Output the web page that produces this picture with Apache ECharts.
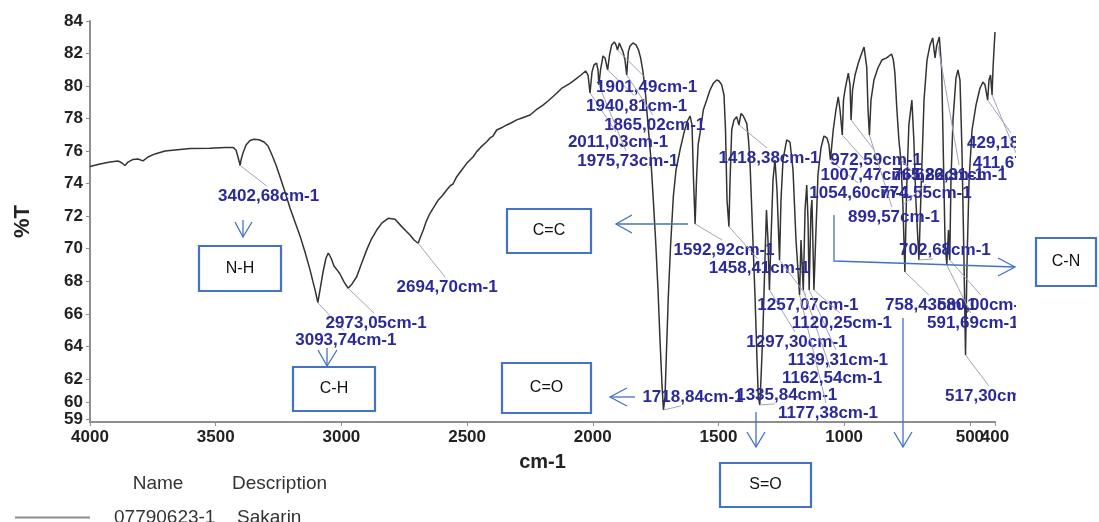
<!DOCTYPE html>
<html>
<head>
<meta charset="utf-8">
<script src="https://cdn.jsdelivr.net/npm/echarts@6/dist/echarts.min.js"></script>
<style>
html,body{margin:0;padding:0;background:#fff;}
#chart{width:1099px;height:522px;}
</style>
</head>
<body>
<div id="chart"></div>
<script>
// ---------- DATA ----------
const wavenumber = [4000,3960.2,3920.4,3888.6,3872.7,3860.8,3848.8,3828.9,3809.1,3789.2,3769.3,3741.4,3701.6,3661.9,3602.2,3522.6,3463,3431.1,3419.2,3411.3,3402.68,3399.3,3391.4,3379.4,3363.5,3347.6,3327.7,3307.8,3291.9,3276,3260.1,3244.2,3224.3,3204.4,3184.5,3164.6,3144.7,3124.8,3112.9,3102.9,3093.74,3085.1,3073.1,3061.2,3052,3041.3,3029.4,3017.4,3005.5,2989.6,2973.05,2957.8,2939.1,2922,2899.3,2882.2,2859.5,2838.4,2813.4,2786.7,2760,2743,2727,2711.1,2694.70,2687.3,2674.1,2663.4,2647.5,2631.6,2614.5,2599.7,2581.1,2567.9,2556,2541.3,2524.2,2501.5,2488.4,2476.4,2461.7,2444.6,2421.9,2408.8,2396.9,2382.2,2365.2,2342.4,2325.3,2302.6,2281.5,2249.7,2225.8,2196.8,2178.1,2143.5,2122.4,2090.6,2066.7,2046.8,2028.5,
2018.9,2011.03,2003,1995.1,1985.1,1979.1,1975.73,1969.1,1959.3,1951.3,1940.81,1933.4,1924.7,1914.3,1907.6,1901.49,1894.4,1887.7,1879.7,1871.8,1865.02,1858.7,1851.9,1840,1828.1,1818.1,1809.7,1800.2,1789.8,1780.3,1770,1760.4,1750.1,1740.5,1732.6,1724.6,1718.84,1712.6,1706.7,1699.5,1690.8,1679.6,1668.9,1653,1637.3,1625.1,1613.2,1605.2,1599.2,1592.92,1587.4,1581,1573.1,1560.3,1546.8,1533.6,1520.5,1507,1497.8,1487.1,1478,1472,1466,1458.41,1453.9,1447.3,1438.1,1427.5,1418.38,1410.3,1401.2,1387.6,1380.5,1374.5,1364.5,1354.6,1346.7,1341.5,1335.84,
1331,1323.1,1315.1,1309.1,1303.1,1297.30,1291.1,1283.1,1275.2,1267.2,1257.07,1251.3,1243.3,1228.6,1215.5,1203.5,1191.6,1177.38,1171.7,1162.54,1155.6,1148.9,1143.7,1139.31,1132,1128.1,1120.25,1112.1,1104.2,1092.3,1080.3,1068.4,1060.5,1054.60,1043.5,1032.7,1023.6,1016.5,1007.47,1002.7,996.7,983.6,976.7,972.59,966.7,956.7,943.6,932.8,920.9,910.2,905,899.57,893.3,881.6,865.7,849.9,831.1,811.4,804.2,798.2,790.2,782.3,774.55,766.3,758.43,751.6,742.6,730.7,722.8,714.8,702.68,695.3,682.3,670.4,658.5,647.8,642.4,638.4,632.4,621.5,612,605.6,598.8,591.69,585.2,580.00,575.1,567.1,555.2,547.3,539.3,531.4,523.4,517.30,511.1,503.1,491.4,475.4,459.6,447.7,439.7,429.18,423.8,417.8,411.67,408.1,404.1,400];
const transmittance = [75.05,75.21,75.33,75.40,75.27,75.12,75.33,75.49,75.52,75.40,75.64,75.83,76.01,76.07,76.16,76.18,76.23,76.23,76.07,75.64,75.12,75.46,75.89,76.38,76.66,76.73,76.70,76.56,76.32,75.76,75.15,74.43,73.49,72.51,71.65,70.79,69.80,68.70,67.96,67.35,66.69,67.47,68.57,69.43,69.74,69.43,68.94,68.70,68.45,67.96,67.57,67.84,68.28,69.00,69.93,70.54,71.15,71.59,71.87,71.81,71.36,71.09,70.85,70.54,70.34,70.65,71.15,71.65,72.18,72.57,73.00,73.24,73.61,73.86,73.98,74.43,74.78,75.25,75.46,75.64,75.97,76.26,76.58,76.81,76.93,77.30,77.42,77.61,77.73,77.92,78.04,78.22,78.53,78.84,79.08,79.56,79.88,80.17,80.44,80.68,80.93,
80.68,79.58,80.87,81.30,81.42,80.99,80.07,80.99,81.85,81.73,80.99,81.91,82.53,82.71,82.53,82.22,82.65,82.53,82.10,81.60,80.68,82.10,82.46,82.65,82.53,82.22,81.73,80.87,79.45,77.61,75.76,73.31,70.54,67.47,64.39,61.63,60.09,60.91,63.78,67.06,70.11,73.20,74.84,76.07,77.12,77.79,78.16,77.61,74.23,71.52,74.23,76.38,77.12,78.53,79.14,79.76,80.17,80.37,80.31,80.07,79.45,77.30,73.00,71.36,74.23,77.30,77.92,78.12,77.61,78.32,78.16,77.71,76.69,75.27,71.15,67.06,63.17,60.91,60.40,
61.94,65.01,69.31,72.38,70.54,67.47,70.54,74.23,75.46,73.61,69.31,73.00,75.46,76.69,76.56,74.84,70.54,67.16,70.54,67.47,72.38,73.92,71.77,67.47,72.38,73.00,67.47,71.15,74.54,76.19,76.93,76.81,76.38,75.46,77.30,78.53,79.33,78.53,76.99,79.14,79.76,80.80,80.07,77.92,79.76,80.68,81.42,81.91,82.40,81.17,78.53,76.99,79.14,80.37,81.11,81.60,81.73,81.97,81.60,80.80,78.53,76.69,75.46,72.69,68.57,73.61,77.61,79.14,76.69,73.00,69.31,73.00,79.14,81.60,82.53,82.96,82.22,81.73,82.46,83.02,80.99,75.89,70.54,69.00,71.15,69.31,74.23,77.92,80.50,80.99,80.37,76.07,69.31,63.47,69.31,74.23,77.30,78.84,79.88,80.25,80.07,79.14,80.37,80.68,79.45,80.99,82.22,83.32];

// labelled peaks
const peakWavenumber = [3402.68,3093.74,2973.05,2694.70,2011.03,1975.73,1940.81,1901.49,1865.02,1718.84,1592.92,1458.41,1418.38,1335.84,1297.30,1257.07,1177.38,1162.54,1139.31,1120.25,1054.60,1007.47,972.59,899.57,774.55,765.82,758.43,702.68,626.31,591.69,580.00,517.30,429.18,411.67];
const peakT = [75.12,66.69,67.57,70.34,79.58,80.07,80.99,82.22,80.68,60.09,71.52,71.36,77.61,60.40,67.47,69.31,67.16,67.47,67.47,67.47,75.46,76.99,77.92,76.99,75.46,72.69,68.57,69.31,82.46,69.00,69.31,63.47,79.14,79.45];
const peakText = ['3402,68cm-1','3093,74cm-1','2973,05cm-1','2694,70cm-1','2011,03cm-1','1975,73cm-1','1940,81cm-1','1901,49cm-1','1865,02cm-1','1718,84cm-1','1592,92cm-1','1458,41cm-1','1418,38cm-1','1335,84cm-1','1297,30cm-1','1257,07cm-1','1177,38cm-1','1162,54cm-1','1139,31cm-1','1120,25cm-1','1054,60cm-1','1007,47cm-1','972,59cm-1','899,57cm-1','774,55cm-1','765,82cm-1','758,43cm-1','702,68cm-1','626,31cm-1','591,69cm-1','580,00cm-1','517,30cm-1','429,18cm-1','411,67cm-1'];

// x ticks: the 500 label sits on a twin axis so that it is not dropped next to 400
const xTickValues = [4000,3500,3000,2500,2000,1500,1000,500,400];
const xTickLabels = ['4000','3500','3000','2500','2000','1500','1000','500','400'];
const xMainLabelValues = [4000,3500,3000,2500,2000,1500,1000,400];
const xTwinLabelValues = [500];
const yTickValues = [59.5,60.55,62,64,66,68,70,72,74,76,78,80,82,84];
const yTickLabels = ['59','60','62','64','66','68','70','72','74','76','78','80','82','84'];

const seriesName = '07790623-1';
const seriesDescription = 'Sakarin';

// ---------- LAYOUT (label offsets in px from the peak) ----------
const peakLabelOffset = [[28.5,30.5],[28,38],[28,35],[29,44],[28,49],[29,76],[29,36],[29,37],[28,50],[29.5,-13],[29,26],[30.5,42],[30,33],[27,-10],[27.5,52],[28.4,45],[28.4,118],[28.7,88],[28.8,70],[28,33],[29.5,33],[28.7,40],[25,40],[24.5,82],[25,33],[35,-30],[26,33],[26,-10],[23,129],[26,58],[33,45],[25.4,41],[25.3,43],[26,68]];

const chart = echarts.init(document.getElementById('chart'), null, {renderer:'canvas'});

const spectrum = wavenumber.map((w,i)=>[w, transmittance[i]]);
const peaks = peakWavenumber.map((w,i)=>[w, peakT[i]]);

const BLUE = '#4472c4';
function box(x,y,w,h,text){
  return [
    {type:'rect', shape:{x:x,y:y,width:w,height:h}, style:{fill:'#fff', stroke:BLUE, lineWidth:2.2}, z:120},
    {type:'text', x:x+w/2, y:y+h/2, style:{text:text, fill:'#111', font:'16px "Liberation Sans"', align:'center', verticalAlign:'middle'}, z:121}
  ];
}
function arrow(points, head){
  return [
    {type:'polyline', shape:{points:points}, style:{stroke:BLUE, lineWidth:1.3, fill:null}, z:120},
    {type:'polyline', shape:{points:head}, style:{stroke:BLUE, lineWidth:1.3, fill:null}, z:120}
  ];
}
function tickLabel(list, labels){
  return v => { const i = list.findIndex(t => Math.abs(t - v) < 1e-6); return i >= 0 ? labels[i] : ''; };
}

const graphics = [].concat(
  // clip region of the original picture on the right
  [{type:'rect', shape:{x:1016,y:0,width:83,height:236}, style:{fill:'#fff'}, z:110},
   {type:'rect', shape:{x:1016,y:289,width:83,height:160}, style:{fill:'#fff'}, z:110}],
  box(199,246,82,45,'N-H'),
  box(293,367,82,44,'C-H'),
  box(507,209,84,44,'C=C'),
  box(502,363,89,50,'C=O'),
  box(720,463,91,44,'S=O'),
  box(1036,238,60,48,'C-N'),
  arrow([[243,220],[243,237]], [[235,222],[243,237],[252,222]]),
  arrow([[327,348],[327,366]], [[318,350],[327,366],[337,350]]),
  arrow([[688,224],[616,224]], [[632,215],[616,224],[632,233]]),
  arrow([[635,397],[610,397]], [[627,388],[610,397],[627,406]]),
  arrow([[756,412],[756,447]], [[747,432],[756,447],[765,432]]),
  arrow([[903,318],[903,447]], [[894,432],[903,447],[912,432]]),
  arrow([[834,215],[834,261],[1015,267]], [[998,258],[1015,267],[998,276]]),
  [{type:'text', x:158, y:484, style:{text:'Name', fill:'#333', font:'19px "Liberation Sans"', align:'center', verticalAlign:'middle'}},
   {type:'text', x:232, y:484, style:{text:'Description', fill:'#333', font:'19px "Liberation Sans"', align:'left', verticalAlign:'middle'}}]
);

const labelFont = {fontSize:17, fontWeight:'bold', color:'#222', fontFamily:'Liberation Sans'};

const option = {
  backgroundColor:'#fff',
  animation:false,
  grid:{left:90, right:104, top:21, bottom:100},
  legend:{
    data:[seriesName], left:10, top:503, icon:'rect', itemWidth:75, itemHeight:2,
    itemStyle:{color:'#8c8c8c'},
    formatter: n => '{n|'+n+'}{d|'+seriesDescription+'}',
    textStyle:{padding:[0,0,0,19], rich:{
      n:{width:123, fontSize:19, color:'#333', fontFamily:'Liberation Sans', lineHeight:22},
      d:{fontSize:19, color:'#333', fontFamily:'Liberation Sans', lineHeight:22}
    }}
  },
  xAxis:[{
    type:'value', min:400, max:4000, inverse:true, position:'bottom',
    name:'cm-1', nameLocation:'middle', nameGap:30,
    nameTextStyle:{fontSize:20, fontWeight:'bold', color:'#222', fontFamily:'Liberation Sans'},
    axisLine:{lineStyle:{color:'#8e8e8e', width:2}},
    axisTick:{show:true, length:4, customValues:xTickValues, lineStyle:{color:'#8e8e8e'}},
    axisLabel:Object.assign({customValues:xMainLabelValues, showMinLabel:true, showMaxLabel:true, hideOverlap:false, margin:7,
      formatter: tickLabel(xTickValues, xTickLabels)}, labelFont),
    splitLine:{show:false}
  },{
    type:'value', min:400, max:4000, inverse:true, position:'bottom',
    axisLine:{show:false}, axisTick:{show:false},
    axisLabel:Object.assign({customValues:xTwinLabelValues, hideOverlap:false, margin:7,
      formatter: tickLabel(xTickValues, xTickLabels)}, labelFont),
    splitLine:{show:false}
  }],
  yAxis:{
    type:'value', min:59.35, max:84,
    name:'%T', nameLocation:'middle', nameGap:56, nameRotate:90,
    nameTextStyle:{fontSize:22, fontWeight:'bold', color:'#222', fontFamily:'Liberation Sans'},
    axisLine:{show:true, lineStyle:{color:'#8e8e8e', width:2}},
    axisTick:{show:true, length:4, customValues:yTickValues, lineStyle:{color:'#8e8e8e'}},
    axisLabel:Object.assign({customValues:yTickValues, hideOverlap:false, margin:7,
      formatter: tickLabel(yTickValues, yTickLabels)}, labelFont),
    splitLine:{show:false}
  },
  series:[
    {
      name:seriesName, type:'line', xAxisIndex:0, data:spectrum, showSymbol:false, symbol:'none',
      lineStyle:{color:'#333', width:1.5}, itemStyle:{color:'#8c8c8c'}, z:3, silent:true
    },
    {
      name:'peaks', type:'custom', xAxisIndex:0, data:peaks, z:5, silent:true, clip:false,
      renderItem:(params, api) => {
        const i = params.dataIndex;
        const p = api.coord([api.value(0), api.value(1)]);
        const off = peakLabelOffset[i];
        const lx = p[0] + off[0], ly = p[1] + off[1];
        const end = off[1] >= 0 ? [lx - 2, ly - 10] : [lx - 12, ly + 9];
        return {type:'group', children:[
          {type:'line', shape:{x1:p[0], y1:p[1], x2:end[0], y2:end[1]}, style:{stroke:'#a3a3bb', lineWidth:1}},
          {type:'text', x:lx, y:ly, style:{text:peakText[i], fill:'#2a2a9c', font:'bold 17px "Liberation Sans"', align:'center', verticalAlign:'middle'}}
        ]};
      }
    }
  ],
  graphic: graphics
};
chart.setOption(option);
</script>
</body>
</html>
